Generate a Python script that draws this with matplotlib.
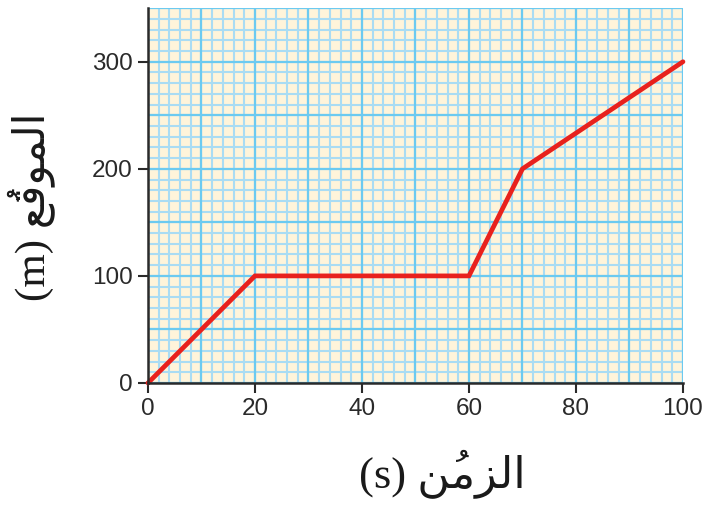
import matplotlib
matplotlib.use('Agg')
import matplotlib.pyplot as plt
import numpy as np

# position-time data
time_s = [0, 20, 60, 70, 100]
position_m = [0, 100, 100, 200, 300]
x_ticks = [0, 20, 40, 60, 80, 100]
y_ticks = [0, 100, 200, 300]

# Arabic written in presentation forms, in visual order (no shaping in matplotlib)
xlabel = "(s) " + "\ufee6\u064f\ufee3\ufeb0\ufedf\ufe8d"
ylabel = "(m) " + "\ufeca\u064f\ufed7\ufeee\ufee4\ufedf\ufe8d"

fig = plt.figure(figsize=(7.03, 5.12), dpi=100)
ax = fig.add_axes([0.2105, 0.252, 0.761, 0.732])
ax.set_facecolor('#fff4da')
ax.set_xlim(0, 100)
ax.set_ylim(0, 350)

# graph paper grid
minor_c = '#aadcf3'
major_c = '#6ccaf0'
ax.vlines(np.arange(0, 101, 2), 0, 350, color=minor_c, lw=1.5, zorder=1)
ax.hlines(np.arange(0, 351, 10), 0, 100, color=minor_c, lw=1.5, zorder=1)
ax.vlines(np.arange(0, 101, 10), 0, 350, color=major_c, lw=1.6, zorder=1)
ax.hlines(np.arange(0, 351, 50), 0, 100, color=major_c, lw=1.6, zorder=1)

ax.plot(time_s, position_m, color='#e8211d', lw=3.4, solid_capstyle='round',
        solid_joinstyle='miter', zorder=3, clip_on=False)

for s in ['top', 'right']:
    ax.spines[s].set_visible(False)
for s in ['left', 'bottom']:
    ax.spines[s].set_color('#2a2a2a')
    ax.spines[s].set_linewidth(1.8)
    ax.spines[s].set_zorder(4)

ax.set_xticks(x_ticks)
ax.set_yticks(y_ticks)
ax.tick_params(direction='out', length=7, width=1.5, color='#2a2a2a',
               labelsize=17.5, labelcolor='#2a2a2a', pad=4)
for lab in ax.get_xticklabels() + ax.get_yticklabels():
    lab.set_family('Liberation Sans')

ax.set_xlabel(xlabel, family=['Liberation Serif', 'DejaVu Sans'], fontsize=32,
              color='#1a1a1a')
ax.xaxis.set_label_coords(0.55, -0.18)
ax.set_ylabel(ylabel, family=['Liberation Serif', 'DejaVu Sans'], fontsize=31,
              color='#1a1a1a')
ax.yaxis.set_label_coords(-0.174, 0.47)

fig.savefig('out.png', dpi=100)
